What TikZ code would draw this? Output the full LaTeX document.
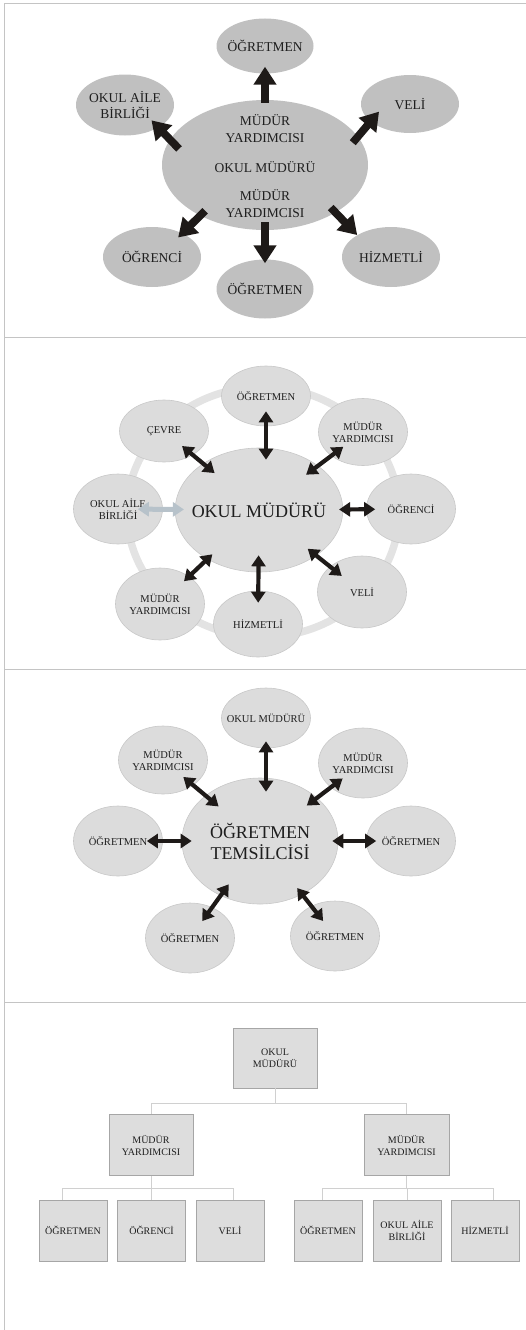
\documentclass[tikz,border=0pt]{standalone}
\usepackage{fontspec}
\setmainfont{Liberation Serif}
\usetikzlibrary{shapes.geometric,arrows.meta}

\definecolor{ellA}{HTML}{C0C0C0}
\definecolor{ellB}{HTML}{DCDCDC}
\definecolor{ellBedge}{HTML}{C8C8C8}
\definecolor{ringgray}{HTML}{E3E3E3}
\definecolor{arrowdark}{HTML}{1E1A18}
\definecolor{softarrow}{HTML}{B7C2CA}
\definecolor{boxfill}{HTML}{DDDDDD}
\definecolor{boxedge}{HTML}{A6A6A6}
\definecolor{linkgray}{HTML}{D0D0D0}
\definecolor{framegray}{HTML}{C4C4C4}
\definecolor{ink}{HTML}{1E1E1E}

\tikzset{
  every node/.style={text=ink},
  satA/.style={ellipse, fill=ellA, inner xsep=-8pt, inner ysep=0pt, align=center,
    minimum width=98pt, minimum height=60pt, font=\fontsize{13.5}{16}\selectfont},
  satB/.style={ellipse, fill=ellB, draw=ellBedge, line width=0.6pt, inner xsep=-8pt,
    inner ysep=0pt, align=center, minimum width=89pt, minimum height=69pt,
    font=\fontsize{10.5}{12}\selectfont},
  hub/.style={ellipse, fill=ellB, draw=ellBedge, line width=0.6pt, inner xsep=-8pt,
    inner ysep=0pt, align=center, minimum width=156pt, minimum height=125pt,
    font=\fontsize{18}{21}\selectfont},
  fat/.style={draw=arrowdark, line width=7.8pt, -{Triangle[length=18pt,width=22pt]}},
  dbl/.style={draw=arrowdark, line width=4.2pt,
    {Triangle[length=11pt,width=14pt]}-{Triangle[length=11pt,width=14pt]}},
  box/.style={rectangle, fill=boxfill, draw=boxedge, line width=0.7pt, inner sep=0pt,
    align=center, minimum width=68pt, minimum height=61pt, font=\fontsize{10}{12}\selectfont},
  link/.style={draw=linkgray, line width=0.8pt},
  frame/.style={draw=framegray, line width=1pt}
}

\begin{document}
\begin{tikzpicture}[x=1pt, y=-1pt]
    \useasboundingbox (0,0) rectangle (526,1330);

    % Panel frames
    \draw[frame] (4.5,1330) -- (4.5,4) -- (526,4);
    \draw[frame] (4.5,337) -- (526,337);
    \draw[frame] (4.5,669) -- (526,669);
    \draw[frame] (4.5,1002.5) -- (526,1002.5);

    % Panel 1: principal in the middle
    \node[satA, minimum width=97pt, minimum height=55pt] (ogt1) at (265,46) {ÖĞRETMEN};
    \node[satA, minimum height=61pt] (oab1) at (125,105) {OKUL AİLE\\BİRLİĞİ};
    \node[satA, minimum height=58pt] (veli1) at (410,104) {VELİ};
    \node[satA] (ogr1) at (152,257) {ÖĞRENCİ};
    \node[satA, minimum width=97pt, minimum height=59pt] (ogb1) at (265,289) {ÖĞRETMEN};
    \node[satA] (hiz1) at (391,257) {HİZMETLİ};
    \node[ellipse, fill=ellA, minimum width=206pt, minimum height=130pt] (mid1) at (265,165) {};
    \node[align=center, font=\fontsize{13.5}{16.5}\selectfont] (mid1txt) at (265,166)
        {MÜDÜR\\YARDIMCISI\\[14pt]OKUL MÜDÜRÜ\\[11.5pt]MÜDÜR\\YARDIMCISI};

    \draw[fat, shorten <=-3pt, shorten >=-7pt] (mid1.90) -- (ogt1.-90);
    \draw[fat, shorten <=-13pt, shorten >=-10pt] (mid1.165) -- (oab1.-34);
    \draw[fat, shorten <=-8pt, shorten >=-13pt] (mid1.17) -- (veli1.-156);
    \draw[fat, shorten <=-7pt, shorten >=-6pt] (mid1.218) -- (ogr1.38);
    \draw[fat, shorten <=-8pt, shorten >=-4pt] (mid1.-90) -- (ogb1.90);
    \draw[fat, shorten <=-7pt] (mid1.-34) -- (hiz1.147);

    % Panel 2: principal with the ring
    \begin{scope}[shift={(0,335)}]
    \draw[draw=ringgray, line width=7.5pt] (263,177) ellipse [x radius=136pt, y radius=125pt];

    \node[satB, minimum height=60pt] (ogt2) at (266,61) {ÖĞRETMEN};
    \node[satB, minimum height=62pt] (cev2) at (164,96) {ÇEVRE};
    \node[satB, minimum height=67pt] (myr2) at (363,97) {MÜDÜR\\YARDIMCISI};
    \node[satB, minimum height=70pt] (oab2) at (118,174) {OKUL AİLE\\BİRLİĞİ};
    \node[satB, minimum height=70pt] (ogr2) at (411,174) {ÖĞRENCİ};
    \node[satB, minimum height=72pt] (myl2) at (160,269) {MÜDÜR\\YARDIMCISI};
    \node[satB, minimum height=66pt] (hiz2) at (258,289) {HİZMETLİ};
    \node[satB, minimum height=72pt] (veli2) at (362,257) {VELİ};
    \node[hub, minimum height=124pt] (mid2) at (259,175) {OKUL MÜDÜRÜ};

    \draw[dbl, shorten <=-12pt, shorten >=-15pt] (ogt2.south |- mid2.north) -- (ogt2.south);
    \draw[dbl, shorten <=-15pt, shorten >=-14pt] (mid2) -- (cev2);
    \draw[dbl, shorten <=-15pt, shorten >=-15pt] (mid2) -- (myr2);
    \draw[dbl, draw=softarrow, line width=5pt, shorten <=-9pt, shorten >=-25pt] (mid2) -- (oab2);
    \draw[dbl, shorten <=-4pt, shorten >=-9pt] (mid2) -- (ogr2);
    \draw[dbl, shorten <=-7pt, shorten >=-7pt] (mid2) -- (myl2);
    \draw[dbl, shorten <=-17pt, shorten >=-12pt] (mid2) -- (hiz2);
    \draw[dbl, shorten <=-11pt, shorten >=-15pt] (mid2) -- (veli2);
    \end{scope}

    % Panel 3: teacher representative
    \begin{scope}[shift={(0,665)}]
    \node[satB, minimum height=60pt] (om3) at (266,53) {OKUL MÜDÜRÜ};
    \node[satB, minimum height=68pt] (myl3) at (163,95) {MÜDÜR\\YARDIMCISI};
    \node[satB, minimum height=70pt] (myr3) at (363,98) {MÜDÜR\\YARDIMCISI};
    \node[satB, minimum height=70pt] (ogl3) at (118,176) {ÖĞRETMEN};
    \node[satB, minimum height=70pt] (ogr3) at (411,176) {ÖĞRETMEN};
    \node[satB, minimum height=70pt] (ogbl3) at (190,273) {ÖĞRETMEN};
    \node[satB, minimum height=70pt] (ogbr3) at (335,271) {ÖĞRETMEN};
    \node[hub, minimum height=126pt] (mid3) at (260,176) {ÖĞRETMEN\\TEMSİLCİSİ};

    \draw[dbl, shorten <=-14pt, shorten >=-7pt] (om3.south |- mid3.north) -- (om3.south);
    \draw[dbl, shorten <=-17pt, shorten >=-13pt] (mid3) -- (myl3);
    \draw[dbl, shorten <=-13pt, shorten >=-15pt] (mid3) -- (myr3);
    \draw[dbl, shorten <=-10pt, shorten >=-16pt] (mid3) -- (ogl3);
    \draw[dbl, shorten <=-6pt, shorten >=-10pt] (mid3) -- (ogr3);
    \draw[dbl, shorten <=-14pt, shorten >=-17pt] (mid3) -- (ogbl3);
    \draw[dbl, shorten <=-8pt, shorten >=-19pt] (mid3) -- (ogbr3);
    \end{scope}

    % Panel 4: organisation chart
    \begin{scope}[shift={(0,995)}]
    \node[box, minimum width=84pt, minimum height=60pt] (om4) at (275,63) {OKUL\\MÜDÜRÜ};
    \node[box, minimum width=84pt] (myl4) at (151,150) {MÜDÜR\\YARDIMCISI};
    \node[box, minimum width=85pt] (myr4) at (406.5,150) {MÜDÜR\\YARDIMCISI};
    \node[box] (o41) at (73,235.5) {ÖĞRETMEN};
    \node[box] (o42) at (151.5,235.5) {ÖĞRENCİ};
    \node[box] (o43) at (230,235.5) {VELİ};
    \node[box] (o44) at (328,235.5) {ÖĞRETMEN};
    \node[box] (o45) at (407,235.5) {OKUL AİLE\\BİRLİĞİ};
    \node[box] (o46) at (485,235.5) {HİZMETLİ};

    \draw[link] (om4.south) -- ++(0,15) -| (myl4.north);
    \draw[link] (om4.south) -- ++(0,15) -| (myr4.north);
    \draw[link] (myl4.south) -- ++(0,13) -| ([xshift=-11pt]o41.north);
    \draw[link] (myl4.south) -- ++(0,13) -| (o42.north);
    \draw[link] (myl4.south) -- ++(0,13) -| ([xshift=3pt]o43.north);
    \draw[link] (myr4.south) -- ++(0,13) -| ([xshift=-6pt]o44.north);
    \draw[link] (myr4.south) -- ++(0,13) -| (o45.north);
    \draw[link] (myr4.south) -- ++(0,13) -| ([xshift=8pt]o46.north);
    \end{scope}
\end{tikzpicture}
\end{document}
